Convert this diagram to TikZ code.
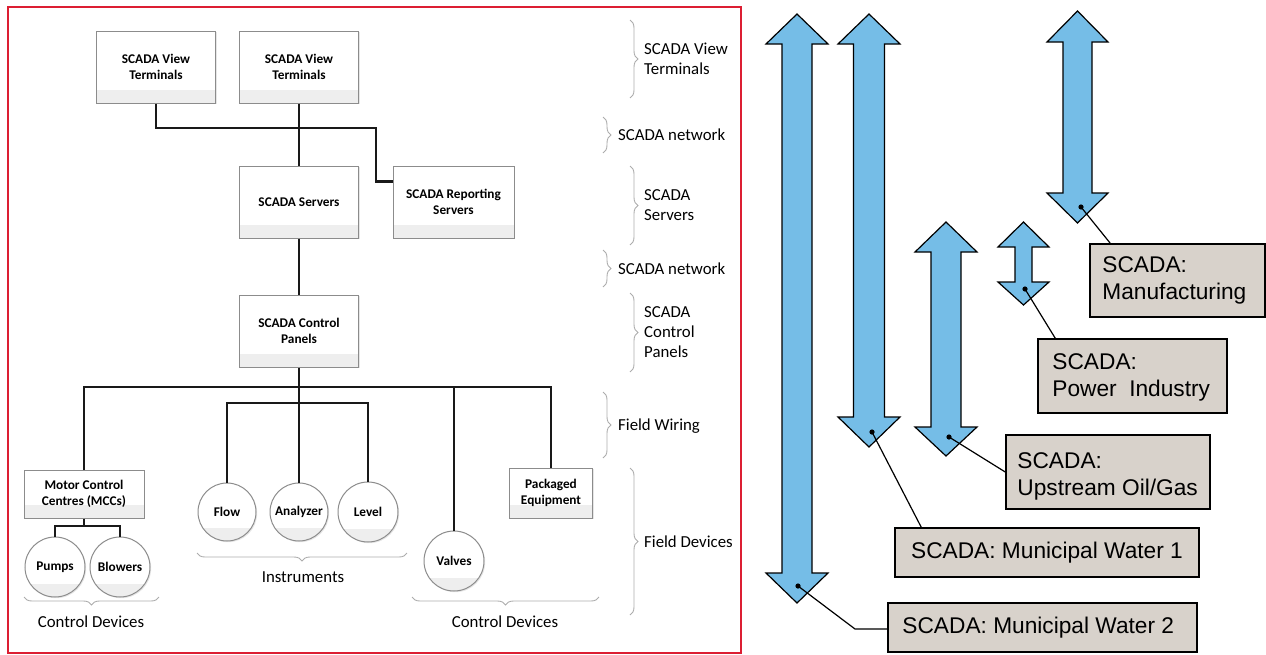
\documentclass[tikz,border=0pt]{standalone}
\usepackage{fontspec}
\setmainfont{Carlito}
\newfontfamily\arialf{Liberation Sans}
\usetikzlibrary{calc,decorations.pathreplacing,shadows}
\definecolor{framered}{RGB}{220,30,50}
\definecolor{arrowblue}{RGB}{117,189,231}
\definecolor{lblfill}{RGB}{216,210,203}
\definecolor{boxline}{RGB}{140,140,140}
\definecolor{bandgray}{RGB}{238,238,238}
\newcommand\twoarrow[7]{% cx, halfshaft, halfhead, ytip, ybase1, ybase2, ytip2
  \draw[arr] (#1,#4) -- ({#1+#3},#5) -- ({#1+#2},#5) -- ({#1+#2},#6) -- ({#1+#3},#6) -- (#1,#7)
    -- ({#1-#3},#6) -- ({#1-#2},#6) -- ({#1-#2},#5) -- ({#1-#3},#5) -- cycle;}
\tikzset{
  sbox/.style={draw=boxline, line width=1pt, fill=white, align=center,
    font=\fontsize{13.3}{16}\selectfont\bfseries, inner sep=0pt,
    drop shadow={opacity=0.2, shadow xshift=1.2pt, shadow yshift=-1.2pt},
    path picture={\fill[bandgray] (path picture bounding box.south west) rectangle ([yshift=13pt]path picture bounding box.south east);}},
  sdev/.style={sbox, circle, minimum size=60pt},
  wire/.style={line width=2.2pt, black!90, line join=miter},
  br/.style={draw=gray!65, line width=0.9pt, decorate, decoration={brace, amplitude=8pt}},
  lab/.style={font=\fontsize{16.8}{20}\selectfont, align=left, anchor=west, inner sep=0pt},
  clab/.style={font=\fontsize{16.8}{20}\selectfont, inner sep=0pt},
  arr/.style={draw=black, line width=1.2pt, fill=arrowblue, line join=miter},
  lbox/.style={draw=black, line width=1.5pt, fill=lblfill, inner sep=0pt},
  ltxt/.style={font=\arialf\fontsize{22.7}{27}\selectfont, align=left, anchor=west, inner sep=0pt},
  lead/.style={line width=1.2pt, black},
}
\begin{document}
\begin{tikzpicture}[x=1pt,y=-1pt]
\useasboundingbox (0,0) rectangle (1266,654);
% red frame
\draw[framered, line width=2pt] (8,7) rectangle (741,653);

% ---- left diagram nodes
\node[sbox, minimum width=119pt, minimum height=72pt] (vt1) at (156,67) {SCADA View\\Terminals};
\node[sbox, minimum width=119pt, minimum height=72pt] (vt2) at (299,67) {SCADA View\\Terminals};
\node[sbox, minimum width=119pt, minimum height=72pt] (srv) at (299,202) {SCADA Servers};
\node[sbox, minimum width=121pt, minimum height=72pt] (rep) at (453.5,202) {SCADA Reporting\\Servers};
\node[sbox, minimum width=119pt, minimum height=72pt] (cp) at (299,331) {SCADA Control\\Panels};
\node[sbox, minimum width=120pt, minimum height=48pt] (mcc) at (84,494) {Motor Control\\Centres (MCCs)};
\node[sbox, minimum width=83pt, minimum height=50pt] (pk) at (551,493) {Packaged\\Equipment};
\node[sdev] (pumps) at (55,567) {Pumps};
\node[sdev] (blow) at (120,567) {Blowers};
\node[sdev, minimum size=58pt] (flow) at (227,512) {Flow};
\node[sdev, minimum size=58pt] (ana) at (299,512) {Analyzer};
\node[sdev] (lev) at (368,512) {Level};
\node[sdev] (valv) at (454,561) {Valves};

% ---- connectors
\coordinate (j1) at (376,128);
\coordinate (rj) at ($(rep.north west)!0.22!(rep.south west)$);
\draw[wire] (vt1.south) |- (j1) |- (rj);
\draw[wire] (vt2.south) -- (srv.north);
\draw[wire] (srv.south) -- (cp.north);
\coordinate (bus) at (299,387);
\coordinate (sub) at (299,403);
\draw[wire] (cp.south) -- (ana.north);
\draw[wire] (mcc.north) |- (bus) -| (pk.north);
\draw[wire] (valv.north) -- (valv.north |- bus);
\draw[wire] (flow.north) |- (sub) -| (lev.north);
\coordinate (mj) at (84,526);
\draw[wire] (mcc.south) -- (mj);
\draw[wire] (pumps.north) |- (mj) -| (blow.north);

% ---- braces and labels
\draw[br] (630,20) -- (630,98);
\node[lab] (l1) at (644,59) {SCADA View\\Terminals};
\draw[br] (603,117) -- (603,153);
\node[lab] (l2) at (618,135) {SCADA network};
\draw[br] (630,166) -- (630,245);
\node[lab] (l3) at (644,205) {SCADA\\Servers};
\draw[br] (603,250) -- (603,287);
\node[lab] (l4) at (618,269) {SCADA network};
\draw[br] (630,293) -- (630,372);
\node[lab] (l5) at (644,332) {SCADA\\Control\\Panels};
\draw[br] (603,392) -- (603,458);
\node[lab] (l6) at (618,426) {Field Wiring};
\draw[br] (630,468) -- (630,615);
\node[lab] (l7) at (644,542) {Field Devices};
\draw[br] (407,553) -- (197,553);
\node[clab] (l8) at (303,577) {Instruments};
\draw[br] (159,597) -- (24,597);
\node[clab] (l9) at (91,622) {Control Devices};
\draw[br] (599,597) -- (412,597);
\node[clab] (l10) at (505,622) {Control Devices};

% ---- right: arrows
\twoarrow{797}{15}{31}{14}{44}{573}{603}
\twoarrow{869}{15.5}{31}{14}{44}{417}{447}
\twoarrow{946}{15}{31}{222}{252}{427}{456}
\twoarrow{1023.5}{8.5}{25.5}{222}{247}{282}{305}
\twoarrow{1077.5}{14.5}{30.5}{11}{42}{193}{223}
\coordinate (dA) at (798,586);
\coordinate (dB) at (872,432);
\coordinate (dC) at (949,437);
\coordinate (dD) at (1025,289);
\coordinate (dE) at (1081,207);
\foreach \d in {dA,dB,dC,dD,dE} \fill (\d) circle (2.6);

% ---- label boxes
\node[lbox, minimum width=175pt, minimum height=73pt] (manu) at (1177.5,280.5) {};
\node[ltxt] (tmanu) at ($(manu.west)+(13,0)$) {SCADA:\\Manufacturing};
\node[lbox, minimum width=189pt, minimum height=74pt] (pow) at (1132.5,376) {};
\node[ltxt] (tpow) at ($(pow.west)+(15,1)$) {SCADA:\\Power\hspace{0.55em}Industry};
\node[lbox, minimum width=204pt, minimum height=74pt] (oil) at (1108,472) {};
\node[ltxt] (toil) at ($(oil.west)+(12,4)$) {SCADA:\\Upstream Oil/Gas};
\node[lbox, minimum width=304pt, minimum height=49pt] (w1) at (1047,552.5) {};
\node[ltxt, anchor=center] (tw1) at (w1.center) {SCADA: Municipal Water 1};
\node[lbox, minimum width=309pt, minimum height=49pt] (w2) at (1042.5,627.5) {};
\node[ltxt] (tw2) at ($(w2.west)+(15,0)$) {SCADA: Municipal Water 2};

% ---- leaders
\draw[lead] (dE) -- ($(manu.north west)+(21,0)$);
\draw[lead] (dD) -- ($(pow.north west)+(18,0)$);
\draw[lead] (dC) -- (oil.west);
\draw[lead] (dB) -- ($(w1.north west)+(27,0)$);
\coordinate (k2) at (855,629);
\draw[lead] (dA) -- (k2) -- (k2 -| w2.west);
\end{tikzpicture}
\end{document}
